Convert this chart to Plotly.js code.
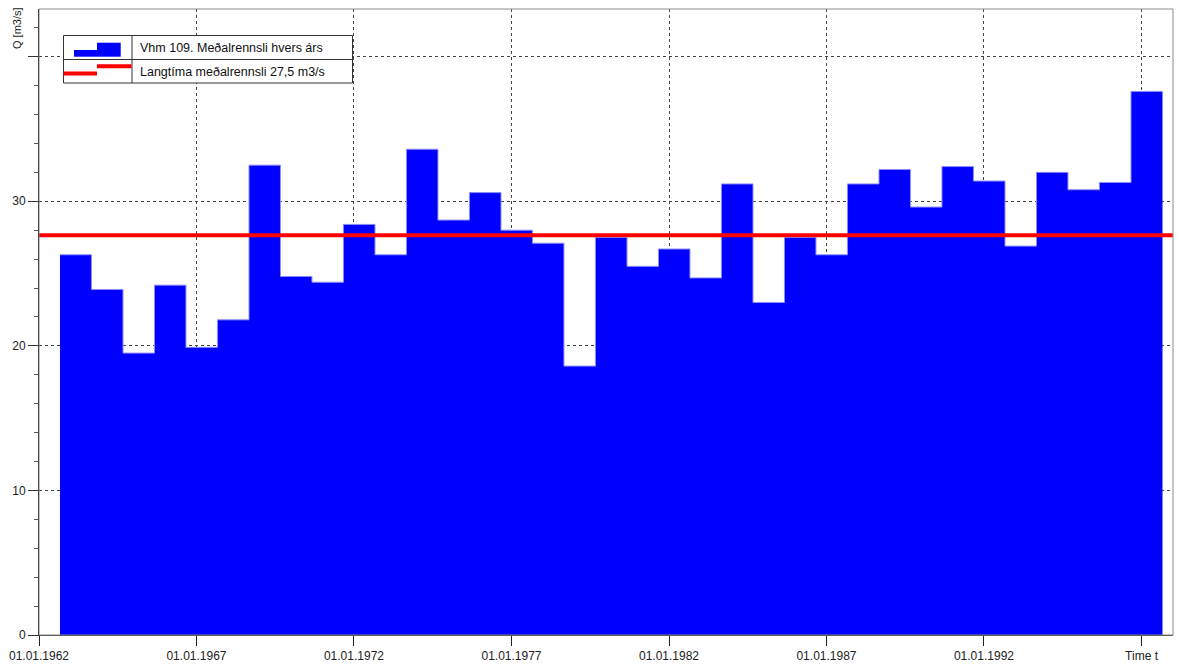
<!DOCTYPE html>
<html><head><meta charset="utf-8">
<script src="https://cdn.plot.ly/plotly-3.0.1.min.js"></script>
<style>html,body{margin:0;padding:0;background:#fff}#chart{width:1178px;height:665px}</style>
</head><body><div id="chart"></div>
<script>
// Water years (start 1 Sept of the given year)
const waterYears = [1962,1963,1964,1965,1966,1967,1968,1969,1970,1971,1972,1973,1974,1975,1976,1977,1978,1979,1980,1981,1982,1983,1984,1985,1986,1987,1988,1989,1990,1991,1992,1993,1994,1995,1996];
const meanFlow = [26.3,23.9,19.5,24.2,19.9,21.8,32.5,24.8,24.4,28.4,26.3,33.6,28.7,30.6,28.0,27.1,18.6,27.5,25.5,26.7,24.7,31.2,23.0,27.5,26.3,31.2,32.2,29.6,32.4,31.4,26.9,32.0,30.8,31.3,37.6];
const longTermMean = 27.65;
const xTickYears = [1962,1967,1972,1977,1982,1987,1992,1997];
const xTickLabels = ['01.01.1962','01.01.1967','01.01.1972','01.01.1977','01.01.1982','01.01.1987','01.01.1992','Time t'];
const yTickValues = [0,10,20,30,40];
const yTickLabels = ['0','10','20','30',''];
const seriesName = 'Vhm 109. Meðalrennsli hvers árs';
const lineName = 'Langtíma meðalrennsli 27,5 m3/s';
const yTitle = 'Q [m3/s]';

const W = 1178, H = 665, M = {l:39, r:5, t:9, b:30};
const pw = W - M.l - M.r, ph = H - M.t - M.b;
const px = x => (x - M.l) / pw;
const py = y => (H - M.b - y) / ph;
const FONT = 'Liberation Sans, Arial, sans-serif';

const last = waterYears.length - 1;
const stepX = waterYears.map(y => y + '-09-01').concat([(waterYears[last] + 1) + '-09-01']);
const stepY = meanFlow.concat([meanFlow[last]]);

const traces = [{
  type: 'scatter', mode: 'lines', name: seriesName,
  x: stepX, y: stepY,
  line: {shape: 'hv', color: '#8c8cff', width: 1},
  fill: 'tozeroy', fillcolor: '#0000ff',
  hoverinfo: 'skip', showlegend: false
}];

const shapes = [
  {type:'line', xref:'paper', x0:0, x1:1, yref:'y', y0:longTermMean, y1:longTermMean,
   line:{color:'#ff0000', width:4}},
  {type:'rect', xref:'paper', yref:'paper', x0:0, x1:1, y0:0, y1:1, line:{color:'#8a8a8a', width:1}},
  // custom legend box
  {type:'rect', xref:'paper', yref:'paper', x0:px(63.5), x1:px(352.5), y0:py(83), y1:py(35.5),
   fillcolor:'#ffffff', line:{color:'#333', width:1}},
  {type:'line', xref:'paper', yref:'paper', x0:px(63.5), x1:px(352.5), y0:py(59.5), y1:py(59.5), line:{color:'#333', width:1}},
  {type:'line', xref:'paper', yref:'paper', x0:px(132), x1:px(132), y0:py(83), y1:py(35.5), line:{color:'#333', width:1}},
  {type:'rect', xref:'paper', yref:'paper', x0:px(74), x1:px(97), y0:py(56.7), y1:py(50), fillcolor:'#0000ff', line:{width:0}},
  {type:'rect', xref:'paper', yref:'paper', x0:px(97), x1:px(120.7), y0:py(56.7), y1:py(42.7), fillcolor:'#0000ff', line:{width:0}},
  {type:'line', xref:'paper', yref:'paper', x0:px(63.5), x1:px(97), y0:py(73.5), y1:py(73.5), line:{color:'#ff0000', width:4}},
  {type:'line', xref:'paper', yref:'paper', x0:px(97), x1:px(131.5), y0:py(66.3), y1:py(66.3), line:{color:'#ff0000', width:4}}
];

const annotations = [
  {xref:'paper', yref:'paper', x:px(138), y:py(48), xanchor:'left', yanchor:'middle', showarrow:false,
   text:seriesName, font:{family:FONT, size:12.5, color:'#111'}},
  {xref:'paper', yref:'paper', x:px(138), y:py(72), xanchor:'left', yanchor:'middle', showarrow:false,
   text:lineName, font:{family:FONT, size:12.5, color:'#111'}},
  {xref:'paper', yref:'paper', x:px(17), y:py(28), xanchor:'center', yanchor:'middle', showarrow:false,
   textangle:-90, text:yTitle, font:{family:FONT, size:11, color:'#222'}}
];

const layout = {
  width: W, height: H,
  margin: {l:M.l, r:M.r, t:M.t, b:M.b, pad:0},
  paper_bgcolor:'#ffffff', plot_bgcolor:'#ffffff',
  showlegend:false,
  font:{family:FONT, size:12, color:'#222'},
  xaxis:{
    type:'date', range:['1962-01-01','1998-01-01'],
    tickmode:'array', tickvals: xTickYears.map(y => y + '-01-01'), ticktext: xTickLabels,
    ticks:'outside', ticklen:10, tickcolor:'#222', tickwidth:1,
    showline:true, linecolor:'#333', linewidth:1,
    showgrid:true, gridcolor:'#444', gridwidth:1, griddash:'3px,3px',
    zeroline:false, tickfont:{family:FONT, size:12, color:'#222'}, fixedrange:true
  },
  yaxis:{
    range:[0, 43.3],
    tickmode:'array', tickvals:yTickValues, ticktext:yTickLabels,
    ticks:'outside', ticklen:10, tickcolor:'#333', tickwidth:1,
    minor:{dtick:2, ticks:'outside', ticklen:4, tickcolor:'#555', showgrid:false},
    showline:true, linecolor:'#000', linewidth:1,
    showgrid:true, gridcolor:'#444', gridwidth:1, griddash:'3px,3px',
    zeroline:false, tickfont:{family:FONT, size:12, color:'#222'}, fixedrange:true
  },
  shapes: shapes,
  annotations: annotations
};

Plotly.newPlot('chart', traces, layout, {displayModeBar:false, staticPlot:true});
</script></body></html>
